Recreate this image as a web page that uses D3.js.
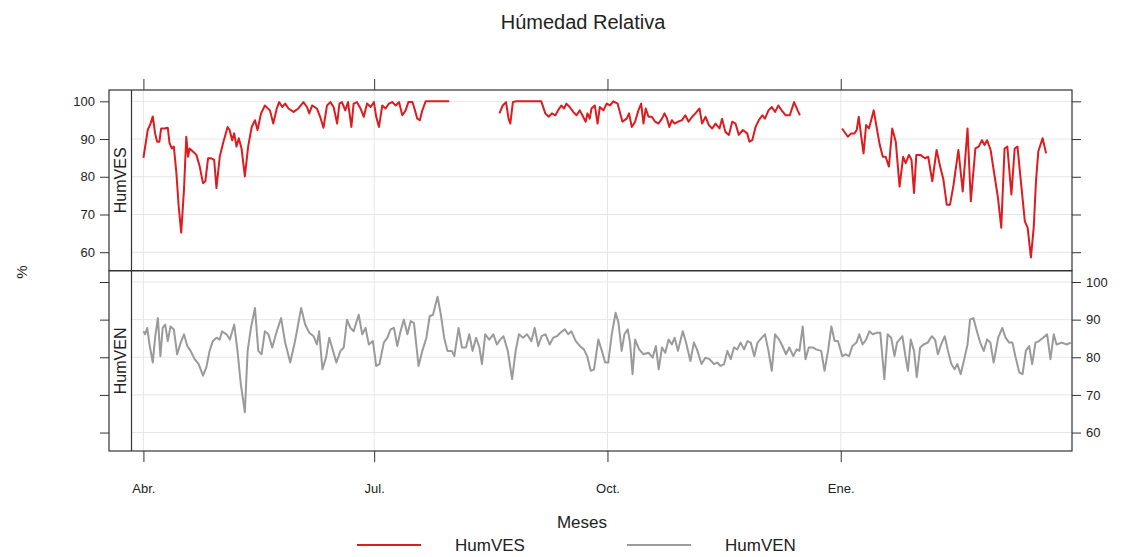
<!DOCTYPE html>
<html lang="es">
<head>
  <meta charset="UTF-8">
  <title>Húmedad Relativa</title>
  <script src="https://d3js.org/d3.v7.min.js"></script>
  <style>
    body { margin: 0; background: #fff; font-family: "Liberation Sans", Arial, sans-serif; }
    svg text { fill: #222; }
    .tick line { stroke: #333; }
    .grid line { stroke: #e6e6e6; stroke-width: 1; }
    .frame { fill: none; stroke: #333; stroke-width: 1.2; }
  </style>
</head>
<body>
<div id="chart"></div>
<script>
  // data: [days since 1 Apr, humidity %], null = missing
  const monthTicks = ["Abr.", "Jul.", "Oct.", "Ene."];
  const monthDays = [0, 91, 183, 275];
  const yTicks = [60, 70, 80, 90, 100];
  const seriesNames = ["HumVES", "HumVEN"];

  const humVES = [
    [0,85],[1.7,92.4],[2.8,94.1],[3.7,96],[4.6,91.5],[5.4,89.3],[6.3,89.3],[7,92.8],[8.3,92.8],[9.6,93],
    [10.3,88.9],[11.2,87.5],[12,88],[13,81],[13.9,72.2],[14.9,65.2],[16,76.6],[16.9,90.6],[17.6,85.3],[18.2,87.5],
    [19.5,86.7],[20.9,85.8],[22.2,82.7],[23.5,78.3],[24.4,78.8],[25.5,84.9],[26.8,84.9],[27.9,84.5],[28.8,77],[30.1,85.3],
    [31.4,88.9],[33.2,93.2],[34,92.4],[35,89.7],[35.8,91.5],[36.7,88],[37.6,90.2],[38.7,87.5],[40,80.1],[41.3,88],
    [42.7,93.2],[44,95],[45,92.4],[46.4,96.8],[47.9,98.9],[49.9,97.6],[51.2,94.1],[52.6,98.1],[53.5,99.8],[54.8,98.5],
    [55.9,99.4],[57.2,98.1],[59.2,97.2],[61.1,98.1],[63.1,99.8],[64.5,98.5],[65.4,96.8],[66.5,98.9],[68.4,98.1],[69.7,95.9],
    [71,93],[72.4,98.9],[73.7,99.8],[75,98.5],[76.4,94.1],[77.3,99.4],[78.3,99.8],[79.6,97.6],[80.7,99.8],[82,93.2],
    [82.9,99.4],[84.2,99.8],[85.6,98.1],[86.9,95.9],[88.2,99.4],[89.6,98.5],[90.9,99.8],[91.8,95.9],[92.9,93.2],[94.2,98.9],
    [95.5,98.1],[96.8,99.4],[98.1,99.8],[99.5,98.9],[100.8,99.8],[102.1,96.3],[103.4,97.6],[104.5,99.8],[106.1,99.8],[107.1,97.6],
    [108,95.4],[109,95],[110,97.6],[111.3,100],[120.6,100],
    [130,null],
    [140.4,96.8],[141.7,98.9],[143,99.8],[144,95.4],[144.7,94.1],[145.7,99.8],[147,100],[156.9,100],[158.5,96.8],[159.8,95.9],
    [161.1,96.8],[162.5,96.3],[163.5,97.6],[164.8,98.9],[165.9,98.1],[166.8,99.4],[168.1,98.5],[169.5,97.2],[170.8,96.3],[172.1,97.6],
    [173.4,95.9],[174.4,94.6],[175.1,96.8],[176,95.4],[176.7,98.1],[178,98.9],[179.1,94.1],[180,98.5],[181.4,97.6],[182.7,99.4],
    [184,98.9],[185.3,100],[187,99.4],[188.9,94.6],[190.6,95.4],[191.5,96.8],[192.6,93.2],[193.9,94.6],[195.2,97.6],[196.3,99.4],
    [197.2,94.1],[198.1,98.1],[199.2,95.9],[200.5,95.9],[201.8,94.6],[203.1,94.1],[204.5,95.4],[205.5,96.8],[206.5,95.4],[207.4,93.2],
    [208.4,95],[209.5,94.1],[210.8,94.6],[212.4,95],[213.7,96.3],[215,94.6],[216.4,95.9],[217.7,96.8],[219.3,98.1],[220.3,94.1],
    [221.7,95.9],[223,93.7],[224.3,92.8],[225.6,94.1],[227.2,92.8],[228.2,95.4],[229.5,91.9],[230.9,91.1],[232.2,94.6],[233.5,94.1],
    [234.8,91.1],[236.4,92.4],[238.1,91.5],[239,89.3],[240.1,89.7],[241.4,93.2],[242.7,95],[244.1,96.3],[245.1,95.4],[246.5,97.6],
    [247.8,98.5],[249.1,97.2],[250.4,98.9],[251.7,97.6],[253.3,96.3],[254.9,96.3],[256.6,99.8],[258,97.6],[258.9,96.3],
    [266,null],
    [275.5,92.8],[277.8,90.6],[279.1,91.5],[280.4,91.5],[281.3,92.4],[282.1,95.9],[283,91.1],[284,86.2],[285,93.7],[286.1,92.8],
    [287,95],[288,97.6],[289,93.7],[290.4,88.4],[291.6,85.3],[292.7,85.3],[294,82.7],[295.3,92.8],[296.7,89.3],[298.2,77.4],
    [299.6,85.3],[300.6,83.6],[301.9,85.8],[302.9,84.5],[303.9,75.7],[304.8,85.8],[306.4,85.8],[308.2,84.9],[309.5,85.3],[311.1,78.8],
    [312.8,87.1],[314.2,82.7],[315.5,79.2],[316.8,72.6],[318.1,72.6],[319.5,77.9],[321.4,87.1],[323.1,76.1],[325,92.8],[326.3,73.5],
    [328.1,87.5],[329.4,88],[330.7,89.7],[331.7,88.4],[332.7,89.7],[334.1,87.1],[335.4,81.4],[337,74.4],[338.3,66.5],[339.6,87.5],
    [340.7,88],[342.3,75.3],[343.6,87.5],[344.7,88],[346.3,77],[347.6,68.2],[348.7,66.5],[350,58.6],[351.1,66.5],[352,78.8],
    [352.9,86.7],[354.6,90.2],[356,86.2]
  ];

  const humVEN = [
    [0,86.9],[0.7,86.1],[1.5,87.8],[2.4,83.4],[3.7,78.6],[4.6,85.2],[5.7,90.4],[6.7,80.3],[7.6,87.8],[8.6,88.7],
    [9.6,84.3],[10.7,88.2],[12,87.4],[13.3,80.8],[14.7,83.9],[16,86.1],[17.3,83],[18.6,81.7],[20.2,79.5],[21.8,78.2],
    [23.5,75.1],[24.8,77.3],[26.1,81.7],[27.4,84.3],[28.8,85.2],[30.1,84.7],[31,86.9],[32.8,86.1],[34.1,84.7],[35.8,88.7],
    [37.1,81.7],[38.4,72.9],[40,65.4],[41.1,81.7],[42.4,87.8],[44,93.1],[45.3,81.7],[46.6,80.8],[47.9,86.9],[49.3,86.1],
    [50.8,82.6],[52.6,86.9],[54.3,90.4],[55.9,83.9],[57.9,78.6],[59.8,84.3],[62.2,93.1],[63.8,88.7],[65.4,86.5],[67.1,85.6],
    [68.4,83.4],[69.3,86.9],[70.6,76.8],[72,79.9],[73.3,85.2],[74.6,82.1],[76.1,78.6],[77.7,81.7],[79,82.6],[80.3,90],
    [81.6,87.8],[82.9,86.9],[84.9,91.3],[86.3,86.1],[87.6,87.8],[88.9,83.4],[90.5,84.3],[91.8,77.7],[93.1,78.2],[94.8,83.9],
    [96.2,85.2],[97.5,87.4],[98.8,87.8],[100.1,83],[101.4,86.9],[102.7,90],[104.1,86.1],[105.4,89.6],[106.7,89.1],[108.5,77.7],
    [110,81.7],[111.6,85.2],[112.9,90.9],[114.2,91.3],[116,96.1],[117.3,91.3],[118.6,85.2],[119.9,81.7],[121.6,81.7],[122.6,80.3],
    [124.3,87.8],[125.6,82.6],[127.2,82.6],[128.5,86.1],[129.8,81.7],[131.2,85.2],[132.5,82.6],[133.5,78.2],[134.8,86.1],[136.4,84.7],
    [138,86.1],[139.4,83.4],[140.7,84.7],[142,85.6],[143.7,81.7],[145.4,74.2],[146.8,81.7],[148.1,86.1],[149.7,85.2],[151.3,86.1],
    [153,84.3],[154.3,87.8],[155.7,83],[157,85.6],[158.6,86.1],[160.2,83.4],[161.6,85.2],[163.1,85.6],[164.4,86.5],[166.2,87.4],
    [167.5,86.1],[168.8,86.9],[170.5,84.3],[172.1,83],[173.7,82.1],[175,80.3],[176.4,76.4],[177.7,76.8],[179.4,84.7],[180.8,81.7],
    [182.1,78.6],[183.3,78.6],[184.7,86.1],[186.2,91.8],[187.3,89.4],[188.6,81.7],[189.7,86.1],[191,87.4],[191.9,83.9],[192.9,75.5],
    [193.9,84.7],[195.5,82.1],[197.2,80.8],[199.2,81.2],[200.8,79.9],[202.1,83],[203.2,76.8],[204.5,82.6],[205.8,81.2],[207.1,84.7],
    [208.4,83.4],[209.5,85.2],[210.8,81.7],[212.7,86.9],[214,83.9],[215.7,79],[217.1,83.9],[218.3,82.1],[220.1,78.2],[221.6,79.9],
    [223.2,79.5],[225,78.2],[226.3,78.6],[227.6,77.7],[229,78.2],[230.3,81.7],[231.6,79.5],[232.9,82.6],[234.2,82.1],[235.5,83.9],
    [236.9,82.1],[238.2,84.3],[239.5,83.9],[240.9,80.3],[242.2,83.9],[243.9,85.2],[245.1,86.1],[246.5,81.7],[247.8,76.4],[249.1,86.1],
    [250.7,84.7],[252,83],[253.4,80.8],[254.7,82.6],[256.3,80.3],[257.6,82.1],[258.7,81.7],[260,88.2],[261.1,79.5],[262.4,82.6],
    [264,82.6],[265.3,82.1],[267.3,81.7],[268.6,76.4],[270,81.7],[271.3,88.2],[272.6,84.3],[273.9,84.3],[275.6,80.3],[276.9,80.8],
    [278.3,80.3],[279.6,83],[281.2,83.9],[282.3,86.1],[283.6,83.4],[285,84.7],[286.3,86.9],[287.6,86.1],[289,86.5],[290.6,86.5],
    [292.2,74.2],[293.5,86.1],[294.9,85.2],[296.2,80.3],[297.2,83.9],[299.3,85.6],[300.6,79.9],[301.5,76.4],[302.6,84.7],[303.9,81.7],
    [305,74.7],[306.3,82.6],[307.7,83.4],[309.3,83.9],[310.9,85.6],[312.2,84.7],[313.3,80.8],[314.6,83.4],[316,85.6],[317.3,81.7],
    [318.6,78.2],[319.9,76.8],[321,78.2],[322.3,75.5],[323.7,79.5],[325,83.4],[326,90],[327.3,90.4],[328.7,86.9],[330,83.9],
    [331.4,81.7],[332.7,84.7],[334,83.9],[335.3,78.6],[337.1,85.2],[338.7,87.8],[340,85.2],[341.4,83.9],[342.7,83.9],[344,79.9],
    [345.4,76],[346.7,75.5],[348,81.7],[349.3,83],[350.5,78.2],[351.8,83.9],[353.2,84.3],[354.8,85.2],[356.4,86.1],[357.7,79.5],
    [359,86.1],[360.1,83.4],[362.1,83.9],[364.1,83.4],[365.7,83.9]
  ];

  const W = 1135, H = 557;
  const frameL = 109, stripR = 131.5, frameR = 1072;
  const frameT = 90, frameMid = 270.7, frameB = 451;
  const colors = ["#de1b1f", "#9a9a9a"];

  const svg = d3.select("#chart").append("svg")
    .attr("width", W).attr("height", H);

  const x = d3.scaleLinear().domain([-4.7, 366.2]).range([stripR, frameR]);
  const panels = [
    { name: seriesNames[0], data: humVES, y0: frameT, y1: frameMid, labelsLeft: true },
    { name: seriesNames[1], data: humVEN, y0: frameMid, y1: frameB, labelsLeft: false }
  ];

  panels.forEach((p, i) => {
    const y = d3.scaleLinear().domain([55.1, 103]).range([p.y1, p.y0]);

    // grid
    const g = svg.append("g").attr("class", "grid");
    g.selectAll(".h").data(yTicks).enter().append("line")
      .attr("x1", stripR).attr("x2", frameR)
      .attr("y1", d => y(d)).attr("y2", d => y(d));
    g.selectAll(".v").data(monthDays).enter().append("line")
      .attr("x1", d => x(d)).attr("x2", d => x(d))
      .attr("y1", p.y0).attr("y2", p.y1);

    // line
    const line = d3.line()
      .defined(d => d[1] !== null)
      .x(d => x(d[0])).y(d => y(d[1]));
    svg.append("path")
      .datum(p.data)
      .attr("fill", "none")
      .attr("stroke", colors[i])
      .attr("stroke-width", 2)
      .attr("stroke-linejoin", "round")
      .attr("d", line);

    // y axes (labels alternate, lattice-style)
    const axL = svg.append("g").attr("transform", `translate(${frameL},0)`)
      .call(d3.axisLeft(y).tickValues(yTicks).tickSize(9).tickPadding(5)
        .tickFormat(p.labelsLeft ? d3.format("d") : ""));
    const axR = svg.append("g").attr("transform", `translate(${frameR},0)`)
      .call(d3.axisRight(y).tickValues(yTicks).tickSize(9).tickPadding(5)
        .tickFormat(p.labelsLeft ? "" : d3.format("d")));
    [axL, axR].forEach(a => {
      a.select(".domain").remove();
      a.selectAll("text").style("font-size", "13px").style("font-family", "Liberation Sans, Arial, sans-serif").attr("fill", "#222");
    });

    // strip
    svg.append("text")
      .attr("transform", `translate(${(frameL + stripR) / 2 + 6},${(p.y0 + p.y1) / 2}) rotate(-90)`)
      .attr("text-anchor", "middle")
      .style("font-size", "16px")
      .text(p.name);

    svg.append("rect").attr("class", "frame")
      .attr("x", frameL).attr("y", p.y0)
      .attr("width", frameR - frameL).attr("height", p.y1 - p.y0);
  });

  svg.append("line").attr("class", "frame")
    .attr("x1", stripR).attr("x2", stripR).attr("y1", frameT).attr("y2", frameB);

  // x axes
  const xTop = svg.append("g").attr("transform", `translate(0,${frameT})`)
    .call(d3.axisTop(x).tickValues(monthDays).tickSize(11).tickFormat(""));
  const xBot = svg.append("g").attr("transform", `translate(0,${frameB})`)
    .call(d3.axisBottom(x).tickValues(monthDays).tickSize(11).tickPadding(22)
      .tickFormat((d, i) => monthTicks[i]));
  [xTop, xBot].forEach(a => a.select(".domain").remove());
  xBot.selectAll("text").style("font-size", "13px").style("font-family", "Liberation Sans, Arial, sans-serif").attr("fill", "#222");

  // titles
  svg.append("text").attr("x", 583).attr("y", 29)
    .attr("text-anchor", "middle").style("font-size", "20px").text("Húmedad Relativa");
  svg.append("text").attr("transform", `translate(27,272) rotate(-90)`)
    .attr("text-anchor", "middle").style("font-size", "15px").text("%");
  svg.append("text").attr("x", 582).attr("y", 528)
    .attr("text-anchor", "middle").style("font-size", "17px").text("Meses");

  // legend
  const legX = [357, 627];
  const leg = svg.append("g");
  seriesNames.forEach((n, i) => {
    leg.append("line")
      .attr("x1", legX[i]).attr("x2", legX[i] + 64)
      .attr("y1", 545).attr("y2", 545)
      .attr("stroke", colors[i]).attr("stroke-width", 2);
    leg.append("text")
      .attr("x", legX[i] + 98).attr("y", 551)
      .style("font-size", "17px").text(n);
  });
</script>
</body>
</html>
